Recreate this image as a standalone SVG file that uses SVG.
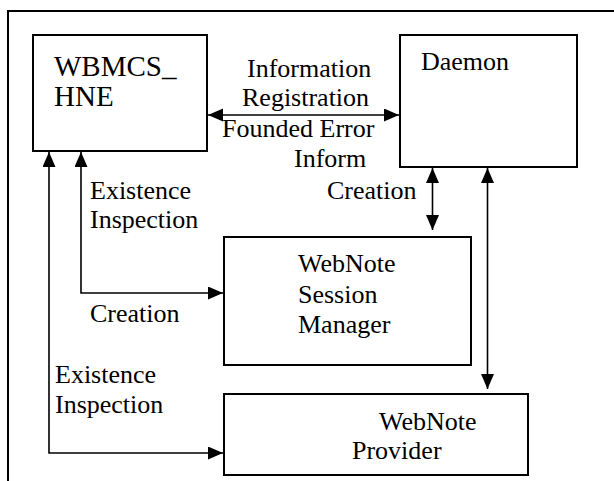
<svg xmlns="http://www.w3.org/2000/svg" width="614" height="481" viewBox="0 0 614 481">
<defs>
<marker id="ah" markerUnits="userSpaceOnUse" markerWidth="16" markerHeight="14" refX="15" refY="6.5" orient="auto-start-reverse">
<path d="M0,0 L15,6.5 L0,13 Z" fill="#000"/>
</marker>
</defs>
<rect width="614" height="481" fill="#fff"/>
<path d="M8,481 V11 H614" fill="none" stroke="#000" stroke-width="2"/>
<g id="wbmcs">
<rect x="33" y="35" width="174" height="116" fill="#fff" stroke="#000" stroke-width="2"/>
<text font-family="Times New Roman" font-size="29" x="54" y="76">WBMCS_</text>
<text font-family="Times New Roman" font-size="29" x="54" y="106">HNE</text>
</g>
<g id="daemon">
<rect x="400" y="35" width="177" height="132" fill="#fff" stroke="#000" stroke-width="2"/>
<text font-family="Times New Roman" font-size="26" x="421" y="70">Daemon</text>
</g>
<g id="session">
<rect x="224" y="237" width="247" height="128" fill="#fff" stroke="#000" stroke-width="2"/>
<text font-family="Times New Roman" font-size="26" x="298" y="272">WebNote</text>
<text font-family="Times New Roman" font-size="26" x="298" y="303">Session</text>
<text font-family="Times New Roman" font-size="26" x="298" y="333">Manager</text>
</g>
<g id="provider">
<rect x="224" y="394" width="304" height="81" fill="#fff" stroke="#000" stroke-width="2"/>
<text font-family="Times New Roman" font-size="26" x="379" y="430">WebNote</text>
<text font-family="Times New Roman" font-size="26" x="352" y="459">Provider</text>
</g>
<g id="connectors" fill="none" stroke="#000" stroke-width="1.6">
<path d="M208,115 H399" marker-start="url(#ah)" marker-end="url(#ah)"/>
<path d="M49,152 V453 H223" marker-start="url(#ah)" marker-end="url(#ah)"/>
<path d="M81,152 V293 H223" marker-start="url(#ah)" marker-end="url(#ah)"/>
<path d="M432.5,168 V230" marker-start="url(#ah)" marker-end="url(#ah)"/>
<path d="M487.5,168 V389" marker-start="url(#ah)" marker-end="url(#ah)"/>
</g>
<g id="labels">
<text font-family="Times New Roman" font-size="26" x="247" y="77">Information</text>
<text font-family="Times New Roman" font-size="26" x="242" y="106">Registration</text>
<text font-family="Times New Roman" font-size="26" x="222" y="137">Founded Error</text>
<text font-family="Times New Roman" font-size="26" x="294" y="167">Inform</text>
<text font-family="Times New Roman" font-size="26" x="327" y="199">Creation</text>
<text font-family="Times New Roman" font-size="26" x="90" y="199">Existence</text>
<text font-family="Times New Roman" font-size="26" x="90" y="228">Inspection</text>
<text font-family="Times New Roman" font-size="26" x="90" y="322">Creation</text>
<text font-family="Times New Roman" font-size="26" x="55" y="383">Existence</text>
<text font-family="Times New Roman" font-size="26" x="55" y="413">Inspection</text>
</g>
</svg>
